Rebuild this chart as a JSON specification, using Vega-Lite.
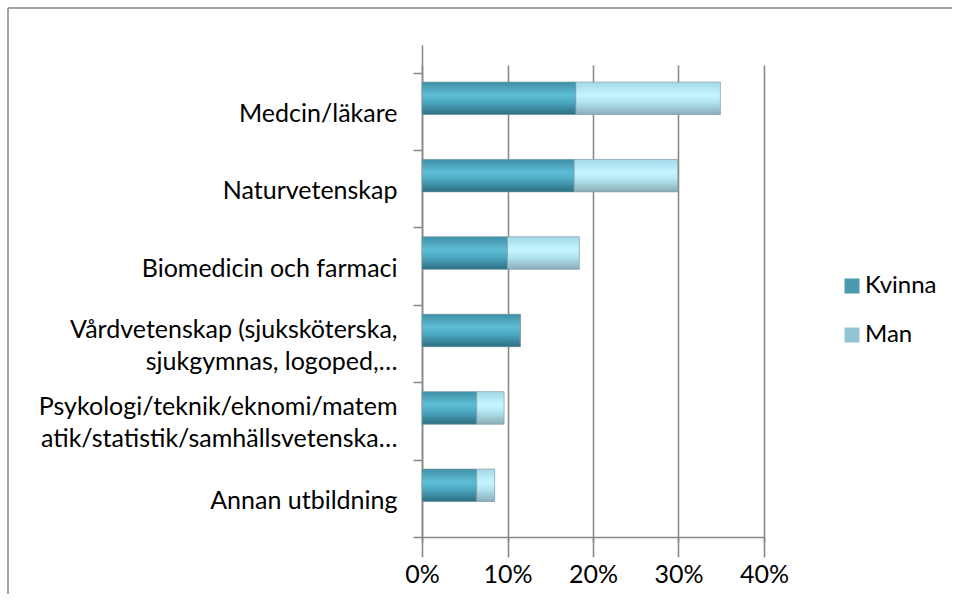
{
  "$schema": "https://vega.github.io/schema/vega-lite/v6.json",
  "autosize": {"type": "none"},
  "padding": {"left": 8, "top": 8, "right": 0, "bottom": 0},
  "width": 944,
  "height": 586,
  "background": "white",
  "config": {
    "view": {"stroke": "#868686", "strokeWidth": 1.5, "strokeDash": [944, 1530, 586, 0]},
    "font": "Lato"
  },
  "data": {
    "values": [
      {"utb": "Medcin/läkare", "kon": "Kvinna", "andel": 0.18},
      {"utb": "Medcin/läkare", "kon": "Man", "andel": 0.169},
      {"utb": "Naturvetenskap", "kon": "Kvinna", "andel": 0.178},
      {"utb": "Naturvetenskap", "kon": "Man", "andel": 0.121},
      {"utb": "Biomedicin och farmaci", "kon": "Kvinna", "andel": 0.1},
      {"utb": "Biomedicin och farmaci", "kon": "Man", "andel": 0.084},
      {"utb": "Vårdvetenskap (sjuksköterska,|sjukgymnas, logoped,…", "kon": "Kvinna", "andel": 0.115},
      {"utb": "Vårdvetenskap (sjuksköterska,|sjukgymnas, logoped,…", "kon": "Man", "andel": 0},
      {"utb": "Psykologi/teknik/eknomi/matem|atik/statistik/samhällsvetenska…", "kon": "Kvinna", "andel": 0.064},
      {"utb": "Psykologi/teknik/eknomi/matem|atik/statistik/samhällsvetenska…", "kon": "Man", "andel": 0.032},
      {"utb": "Annan utbildning", "kon": "Kvinna", "andel": 0.064},
      {"utb": "Annan utbildning", "kon": "Man", "andel": 0.021}
    ]
  },
  "encoding": {
    "y": {
      "field": "utb",
      "type": "nominal",
      "sort": null,
      "scale": {"range": [37, 529], "paddingInner": 0, "paddingOuter": 0.178, "align": 1},
      "axis": {
        "title": null,
        "offset": -414,
        "tickBand": "extent",
        "tickSize": 9,
        "tickColor": "#868686",
        "tickWidth": 1.5,
        "domainColor": "#868686",
        "domainWidth": 1.5,
        "labelPadding": 16,
        "labelOffset": -14,
        "labelFontSize": 25,
        "labelColor": "#000000",
        "labelLimit": 500,
        "labelLineHeight": 16,
        "labelExpr": "indexof(datum.label, '|') >= 0 ? [split(datum.label, '|')[0], '\u2800', split(datum.label, '|')[1]] : ['\u2800', datum.label]",
        "grid": false
      }
    },
    "x": {
      "field": "andel",
      "type": "quantitative",
      "stack": "zero",
      "scale": {"domain": [0, 0.4], "range": [414, 756], "nice": false},
      "axis": {
        "title": null,
        "offset": -57,
        "values": [0, 0.1, 0.2, 0.3, 0.4],
        "format": ".0%",
        "labelFlush": false,
        "grid": true,
        "gridColor": "#8a8a8a",
        "gridWidth": 1.6,
        "tickColor": "#868686",
        "tickWidth": 1.5,
        "tickSize": 5,
        "domainColor": "#868686",
        "domainWidth": 1.5,
        "labelPadding": 20,
        "labelFontSize": 25,
        "labelColor": "#000000"
      }
    }
  },
  "layer": [
    {
      "mark": {"type": "bar", "height": {"band": 0.42}, "yOffset": -13},
      "encoding": {
        "color": {
          "field": "kon",
          "type": "nominal",
          "scale": {"domain": ["Kvinna", "Man"], "range": ["#4a9bb0", "#93c4d4"]},
          "legend": {
            "title": null,
            "orient": "none",
            "legendX": 832,
            "legendY": 266,
            "symbolType": "square",
            "symbolSize": 225,
            "symbolStrokeWidth": 0,
            "labelFontSize": 24,
            "labelColor": "#000000",
            "labelOffset": 1,
            "rowPadding": 25,
            "padding": 0
          }
        }
      }
    },
    {
      "mark": {"type": "bar", "height": {"band": 0.42}, "yOffset": -13, "stroke": "#7f9aa3", "strokeWidth": 0.6},
      "encoding": {
        "detail": {"field": "kon", "type": "nominal"},
        "fill": {
          "condition": {
            "test": "datum.kon === 'Kvinna'",
            "value": {
              "gradient": "linear", "x1": 0, "y1": 0, "x2": 0, "y2": 1,
              "stops": [
                {"offset": 0, "color": "#3f8fa5"},
                {"offset": 0.4, "color": "#5ebdd6"},
                {"offset": 0.6, "color": "#4eabc4"},
                {"offset": 1, "color": "#2d6f82"}
              ]
            }
          },
          "value": {
            "gradient": "linear", "x1": 0, "y1": 0, "x2": 0, "y2": 1,
            "stops": [
              {"offset": 0, "color": "#a2d8e6"},
              {"offset": 0.4, "color": "#c6f5ff"},
              {"offset": 0.6, "color": "#b5e7f2"},
              {"offset": 1, "color": "#8aaeb9"}
            ]
          }
        }
      }
    }
  ]
}
